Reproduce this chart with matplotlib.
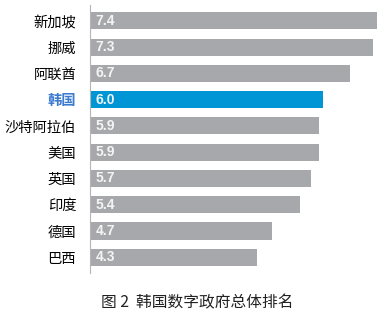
import matplotlib
matplotlib.use("Agg")
import matplotlib.pyplot as plt

plt.rcParams['font.family'] = ['Noto Sans CJK SC', 'DejaVu Sans']

countries = ["新加坡", "挪威", "阿联酋", "韩国", "沙特阿拉伯", "美国", "英国", "印度", "德国", "巴西"]
scores = [7.4, 7.3, 6.7, 6.0, 5.9, 5.9, 5.7, 5.4, 4.7, 4.3]
highlight = "韩国"
caption = "图 2  韩国数字政府总体排名"

gray = "#a7a8ab"
blue = "#0096d6"

fig = plt.figure(figsize=(3.85, 3.23), dpi=100)
ax = fig.add_axes([90/385, 50/323, 295/385, 268/323])

pos = list(range(len(countries)))
colors = [blue if c == highlight else gray for c in countries]
ax.barh(pos, scores, height=0.65, color=colors, edgecolor='none')

for p, v in zip(pos, scores):
    ax.text(0.15, p, f"{v:.1f}", va='center', ha='left', color='#f4f4f4',
            fontsize=10, fontweight='bold', family=['Liberation Sans', 'DejaVu Sans'])

ax.set_xlim(0, 7.603)
ax.set_ylim(9.6, -0.6)
ax.set_yticks(pos)
ax.set_yticklabels(countries, fontsize=10.3)
for lbl in ax.get_yticklabels():
    if lbl.get_text() == highlight:
        lbl.set_color('#3d7bd0')
        lbl.set_fontweight('bold')
ax.tick_params(axis='y', length=0, pad=10)
ax.set_xticks([])
for s in ['top', 'right', 'bottom']:
    ax.spines[s].set_visible(False)
ax.spines['left'].set_color('#b5b5b5')
ax.spines['left'].set_linewidth(0.8)

fig.text(197/385, 0.062, caption, ha='center', va='center', fontsize=11.3, color='#222222')

fig.savefig("out.png", dpi=100)
